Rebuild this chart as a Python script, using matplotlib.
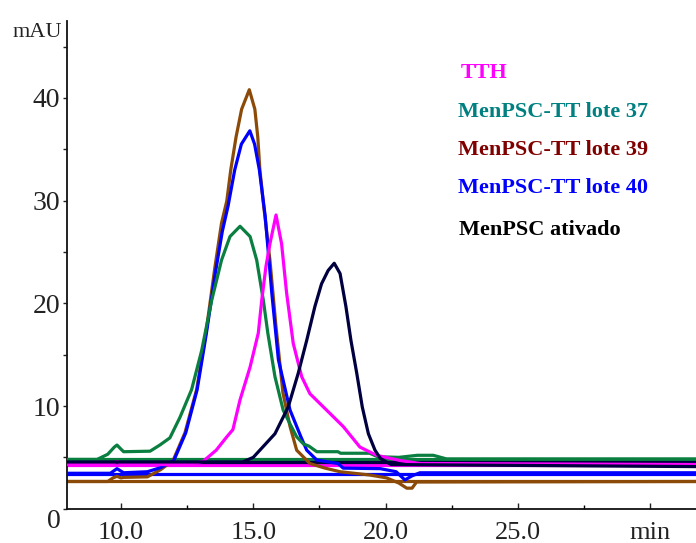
import matplotlib
matplotlib.use("Agg")
import matplotlib.pyplot as plt
from matplotlib.ticker import FixedLocator

# ---------------- data ----------------
series_names = ["TTH", "MenPSC-TT lote 37", "MenPSC-TT lote 39",
                "MenPSC-TT lote 40", "MenPSC ativado"]

# TTH (magenta)
tth_x = [7.95, 9.6, 9.85, 10.1, 12.5, 13.1, 13.6, 14.0, 14.23, 14.5, 14.88, 15.19,
         15.32, 15.48, 15.63, 15.86, 16.07, 16.26, 16.51, 16.83, 17.14, 17.77, 18.4,
         19.03, 19.66, 20.54, 21.3, 31.73]
tth_y = [4.3, 4.3, 4.6, 4.3, 4.3, 4.6, 5.7, 7.0, 7.7, 10.6, 13.8, 17.1,
         20.3, 23.6, 25.8, 28.6, 25.8, 21.0, 16.1, 12.85, 11.2, 9.6, 8.0,
         6.0, 5.2, 4.7, 4.4, 4.3]

# MenPSC-TT lote 37 (green)
l37_x = [7.95, 9.1, 9.5, 9.75, 9.85, 10.0, 10.1, 11.1, 11.47, 11.85, 12.23, 12.67,
         13.05, 13.43, 13.8, 14.12, 14.5, 14.88, 15.13, 15.38, 15.55, 15.82, 16.13,
         16.4, 16.64, 16.9, 17.1, 17.4, 18.2, 18.3, 19.4, 19.7, 20.5, 21.2, 21.8,
         22.3, 31.73]
l37_y = [4.8, 4.8, 5.3, 6.0, 6.2, 5.8, 5.55, 5.6, 6.2, 6.9, 8.9, 11.6,
         15.4, 20.3, 24.2, 26.5, 27.5, 26.5, 24.2, 20.3, 17.1, 12.85, 9.6,
         8.2, 7.0, 6.3, 6.1, 5.55, 5.55, 5.4, 5.4, 5.06, 5.0, 5.2, 5.2,
         4.85, 4.85]

# MenPSC-TT lote 39 (brown)
l39_x = [7.95, 9.5, 9.7, 9.85, 10.0, 10.1, 11.0, 11.5, 11.97, 12.42, 12.86, 13.21,
         13.55, 13.8, 14.0, 14.15, 14.35, 14.56, 14.85, 15.06, 15.17, 15.25, 15.38,
         15.5, 15.63, 15.86, 16.12, 16.39, 16.64, 17.14, 17.7, 18.28, 19.4, 20.04,
         20.5, 20.8, 21.0, 21.17, 31.73]
l39_y = [2.65, 2.65, 3.0, 3.15, 3.0, 3.05, 3.1, 3.8, 4.7, 7.4, 11.6, 17.1,
         23.5, 27.8, 29.97, 33.0, 36.2, 38.9, 40.8, 38.9, 36.2, 33.0, 29.8,
         27.1, 24.2, 17.7, 11.3, 8.0, 5.7, 4.4, 3.96, 3.6, 3.28, 3.0,
         2.5, 2.0, 2.0, 2.6, 2.65]

# MenPSC-TT lote 40 (blue)
l40_x = [7.95, 9.6, 9.85, 10.1, 11.0, 11.5, 12.0, 12.45, 12.88, 13.23, 13.57, 13.83,
         14.05, 14.3, 14.55, 14.87, 15.05, 15.23, 15.45, 15.7, 15.95, 16.39, 16.8,
         17.02, 17.4, 18.2, 18.4, 19.8, 20.4, 20.73, 21.0, 21.3, 31.73]
l40_y = [3.45, 3.45, 3.9, 3.5, 3.6, 4.0, 4.7, 7.4, 11.6, 17.1, 23.0, 27.0,
         29.5, 33.0, 35.5, 36.8, 35.5, 33.0, 28.5, 21.0, 14.5, 9.6, 7.0,
         5.7, 4.74, 4.4, 3.95, 3.9, 3.6, 2.8, 3.2, 3.5, 3.5]

# MenPSC ativado (navy)
ativ_x = [7.95, 14.6, 15.0, 15.25, 15.82, 16.32, 16.7, 17.02, 17.33, 17.58, 17.83,
          18.06, 18.28, 18.5, 18.69, 18.91, 19.12, 19.35, 19.6, 19.8, 20.2, 31.73]
ativ_y = [4.55, 4.55, 5.0, 5.7, 7.3, 9.9, 13.2, 16.4, 19.7, 21.9, 23.2,
          23.9, 22.9, 19.7, 16.4, 13.2, 9.9, 7.3, 5.7, 4.9, 4.3, 4.1]

# flat baselines drawn under traces
baseline_levels = [4.3, 4.8, 2.65, 3.4, 4.55]

x_major = [10, 15, 20, 25, 30]
x_labels = ["10.0", "15.0", "20.0", "25.0", "min"]
x_minor = [12.5, 17.5, 22.5, 27.5]
y_major = [0, 10, 20, 30, 40]
y_labels = ["0", "10", "20", "30", "40"]
y_minor = [5, 15, 25, 35, 45]

# ---------------- style ----------------
line_colors = ["#ff00ff", "#0a7f40", "#8b4a08", "#0000ff", "#000040"]
text_colors = ["#ff00ff", "#008080", "#800000", "#0000ff", "#000000"]
serif = ["Liberation Serif", "DejaVu Serif"]

fig = plt.figure(figsize=(6.96, 5.43), dpi=100)
ax = fig.add_axes([66.7 / 696, 34.3 / 543, 1 - 66.7 / 696, (508.7 - 20.9) / 543])
ax.set_xlim(7.95, 31.73)
ax.set_ylim(0, 47.5)

lw = 2.3
for lvl, c in zip(baseline_levels, line_colors):
    ax.axhline(lvl, color=c, lw=lw, zorder=1)

traces = [(l39_x, l39_y, line_colors[2]),
          (l40_x, l40_y, line_colors[3]),
          (l37_x, l37_y, line_colors[1]),
          (tth_x, tth_y, line_colors[0]),
          (ativ_x, ativ_y, line_colors[4])]
for i, (xs, ys, c) in enumerate(traces):
    ax.plot(xs, ys, color=c, lw=lw, zorder=2 + i, solid_joinstyle="round")

for s in ["top", "right"]:
    ax.spines[s].set_visible(False)
for s in ["left", "bottom"]:
    ax.spines[s].set_linewidth(1.3)
    ax.spines[s].set_color("#111111")

ax.xaxis.set_major_locator(FixedLocator(x_major))
ax.xaxis.set_minor_locator(FixedLocator(x_minor))
ax.set_xticklabels(x_labels)
ax.yaxis.set_major_locator(FixedLocator(y_major))
ax.yaxis.set_minor_locator(FixedLocator(y_minor))
ax.set_yticklabels(y_labels)

ax.tick_params(axis="x", which="major", direction="in", length=4.5, width=1,
               pad=9.5, labelsize=19, colors="#222222")
ax.tick_params(axis="x", which="minor", direction="in", length=3, width=1)
ax.tick_params(axis="y", which="both", direction="out", length=3, width=1,
               pad=1.5, labelsize=20, colors="#222222")
for lab in ax.get_xticklabels() + ax.get_yticklabels():
    lab.set_family(serif)
ax.get_yticklabels()[0].set_va("top")

fig.text(13 / 696, 1 - 37 / 543, "mAU", family=serif, fontsize=16,
         color="#222222", ha="left", va="baseline")

legend_y = [73, 112, 150, 188, 230]
legend_x = [461, 458, 458, 458, 459]
for name, c, yy, xx in zip(series_names, text_colors, legend_y, legend_x):
    fig.text(xx / 696, 1 - yy / 543, name, family=serif, fontsize=16,
             fontweight="bold", color=c, ha="left", va="center")

fig.savefig("out.png", dpi=100)
